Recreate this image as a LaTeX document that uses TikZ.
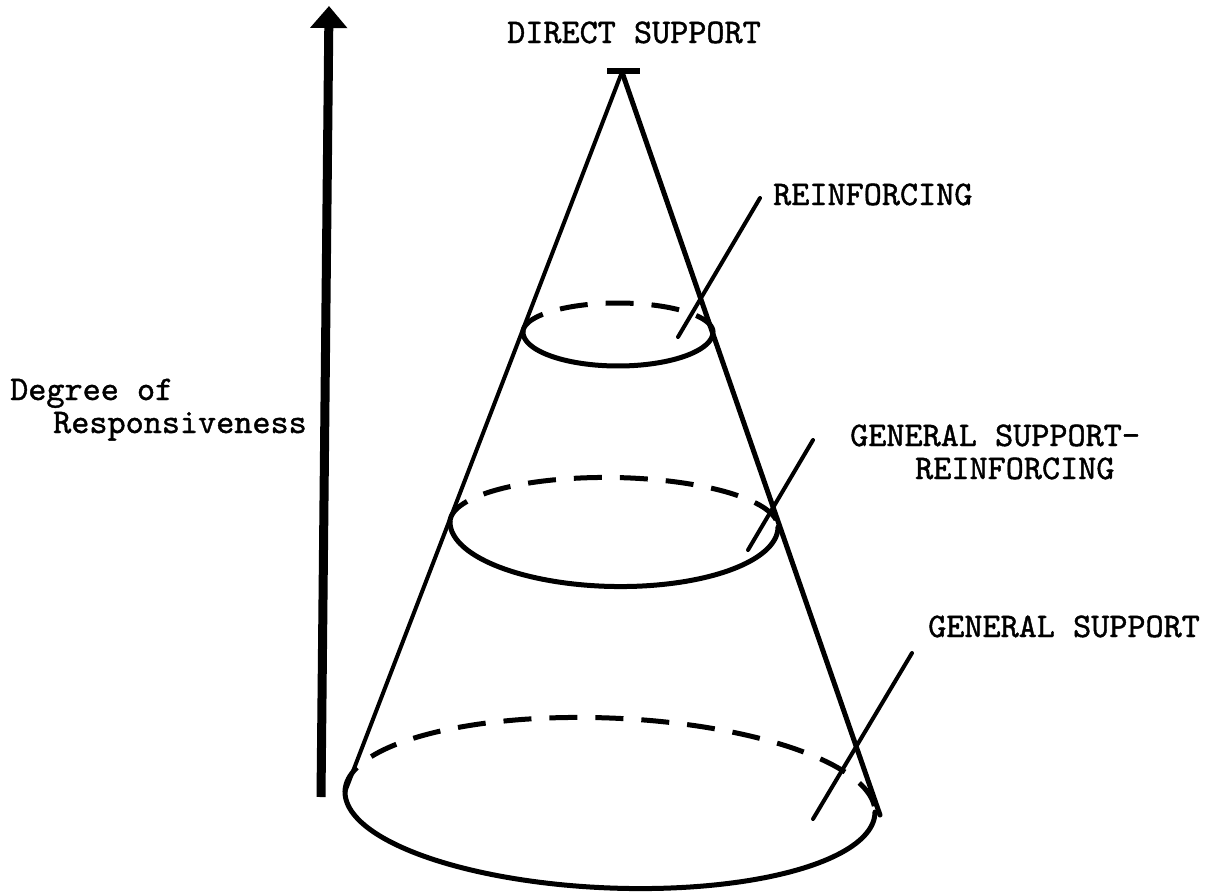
\documentclass[tikz,border=0pt]{standalone}
\usepackage{fontspec}
\setmonofont{lmmono10-regular.otf}[FakeBold=1.2]
\usetikzlibrary{arrows.meta}
\begin{document}
\begin{tikzpicture}[x=1pt,y=-1pt,
  lbl/.style={font=\fontsize{34.5}{38}\selectfont\ttfamily, inner sep=0pt, anchor=base west},
  cone/.style={line width=4pt, line cap=round},
  rim/.style={line width=5pt, line cap=round},
  back/.style={line width=5pt, dash pattern=on 28pt off 18pt},
  leader/.style={line width=4pt, line cap=round}]
\useasboundingbox (0,0) rectangle (1221,895);
% axis arrow
\coordinate (ab) at (321,797);
\coordinate (at) at (329,6);
\draw[line width=9pt, -{Triangle[width=36pt,length=22pt]}] (ab) -- (at);
% apex
\coordinate (apex) at (622,72);
\coordinate (bl) at (607,71);
\coordinate (br) at (640,71);
\draw[line width=6pt] (bl) -- (br);
\coordinate (L) at (345,792);
\coordinate (R) at (880,815);
\draw[cone] (apex) -- (L);
\draw[cone, line width=5pt] (apex) -- (R);
% top ellipse
\draw[back] plot[domain=180:0, samples=60] ({618+95*cos(\x)}, {332-29*sin(\x)});
\draw[rim] plot[domain=180:360, samples=60] ({618+95*cos(\x)}, {332-34*sin(\x)});
% middle ellipse
\draw[back] plot[domain=180:0, samples=80] ({614+164*cos(\x)}, {524.5+2.5*cos(\x)-47*sin(\x)});
\draw[rim] plot[domain=180:360, samples=80] ({614+164*cos(\x)}, {524.5+2.5*cos(\x)-62*sin(\x)});
% bottom ellipse
\draw[back] plot[domain=180:0, samples=100] ({610+265*cos(\x)}, {802+10*cos(\x)-84*sin(\x)});
\draw[rim] plot[domain=180:360, samples=100] ({610+265*cos(\x)}, {802+10*cos(\x)-86*sin(\x)});
% labels
\node[lbl] (direct) at (507,43) {DIRECT SUPPORT};
\node[lbl] (reinf) at (773,205) {REINFORCING};
\node[lbl] (gsr1) at (850,446) {GENERAL SUPPORT-};
\node[lbl] (gsr2) at (915,479) {REINFORCING};
\node[lbl] (gs) at (928,637) {GENERAL SUPPORT};
\node[lbl] (deg1) at (10,400) {Degree of};
\node[lbl] (deg2) at (53,433) {Responsiveness};
% leaders
\coordinate (l1a) at (760,198); \coordinate (l1b) at (678,337);
\coordinate (l2a) at (813,440); \coordinate (l2b) at (748,550);
\coordinate (l3a) at (912,653); \coordinate (l3b) at (813,819);
\draw[leader] (l1a) -- (l1b);
\draw[leader] (l2a) -- (l2b);
\draw[leader] (l3a) -- (l3b);
\end{tikzpicture}
\end{document}
